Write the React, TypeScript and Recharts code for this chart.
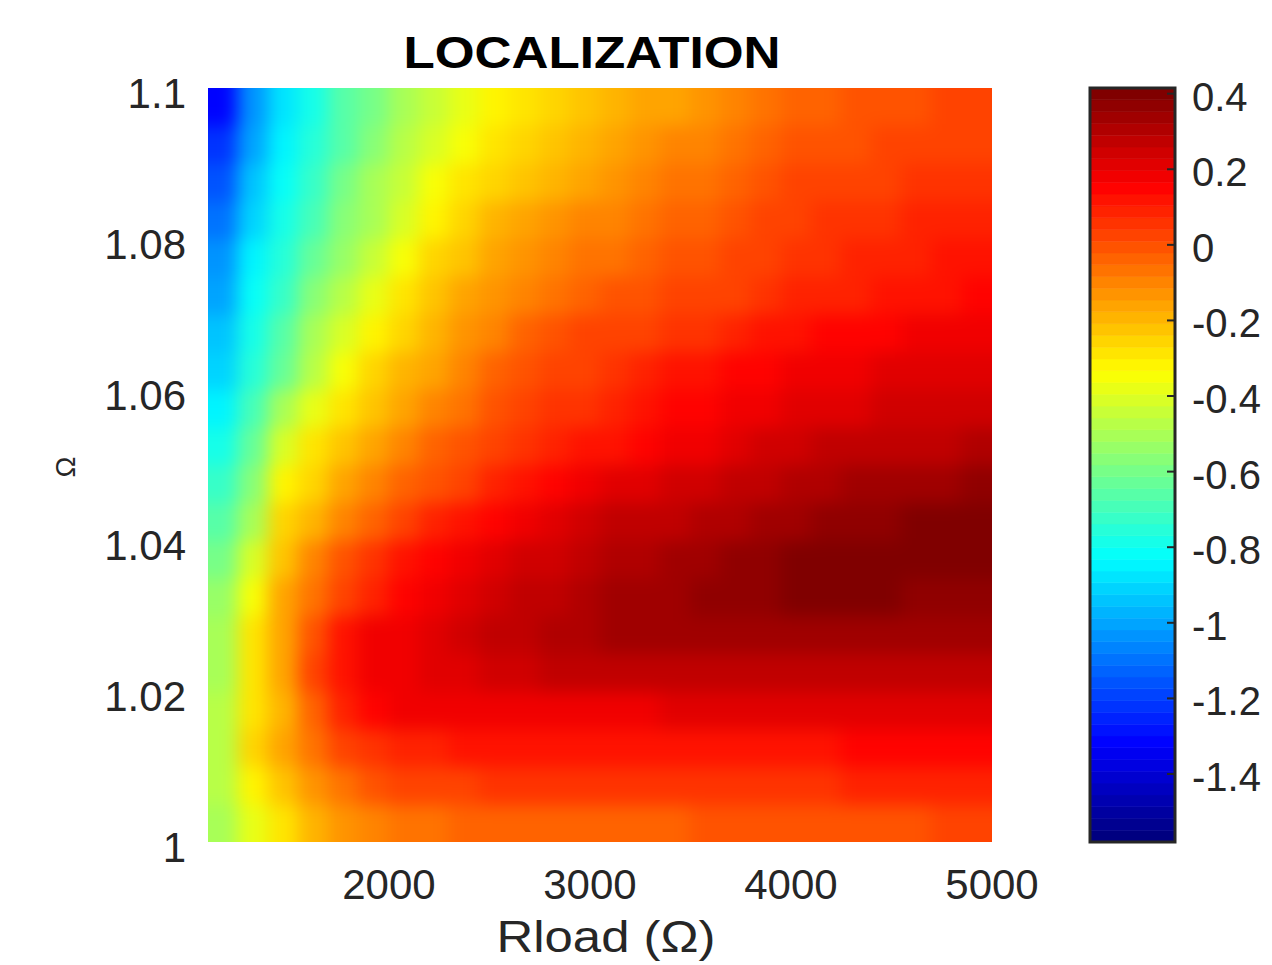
import React from 'react';
import { ComposedChart, XAxis, YAxis, ReferenceArea } from 'recharts';

// Grid centres (cell edges: Rload 1100..5000 step 150, Omega 1.00..1.10 step 0.005)
const rloadCenters = [1175, 1325, 1475, 1625, 1775, 1925, 2075, 2225, 2375, 2525, 2675, 2825, 2975, 3125, 3275, 3425, 3575, 3725, 3875, 4025, 4175, 4325, 4475, 4625, 4775, 4925];
const omegaCenters = [1.0025, 1.0075, 1.0125, 1.0175, 1.0225, 1.0275, 1.0325, 1.0375, 1.0425, 1.0475, 1.0525, 1.0575, 1.0625, 1.0675, 1.0725, 1.0775, 1.0825, 1.0875, 1.0925, 1.0975];
const R_STEP = 150;
const OMEGA_STEP = 0.005;

// localization[row][col], rows bottom (Omega=1.0025) to top (Omega=1.0975)
const localization = [
  [-0.50, -0.38, -0.30, -0.20, -0.14, -0.10, -0.08, -0.06, -0.05, -0.04, -0.04, -0.04, -0.04, -0.03, -0.03, -0.03, -0.02, -0.02, -0.02, -0.01, -0.01, -0.01, 0.00, 0.00, 0.01, 0.01],
  [-0.46, -0.32, -0.22, -0.13, -0.06, -0.01, 0.01, 0.03, 0.04, 0.05, 0.05, 0.06, 0.06, 0.06, 0.06, 0.06, 0.07, 0.07, 0.07, 0.07, 0.07, 0.08, 0.08, 0.08, 0.08, 0.09],
  [-0.46, -0.27, -0.17, -0.07, 0.01, 0.06, 0.08, 0.10, 0.11, 0.12, 0.12, 0.12, 0.12, 0.12, 0.12, 0.13, 0.13, 0.13, 0.13, 0.13, 0.13, 0.14, 0.14, 0.14, 0.15, 0.15],
  [-0.47, -0.29, -0.18, -0.05, 0.09, 0.15, 0.17, 0.17, 0.18, 0.18, 0.19, 0.19, 0.19, 0.19, 0.19, 0.20, 0.20, 0.20, 0.20, 0.21, 0.21, 0.21, 0.21, 0.22, 0.22, 0.22],
  [-0.49, -0.29, -0.15, 0.02, 0.13, 0.17, 0.19, 0.21, 0.22, 0.24, 0.25, 0.26, 0.27, 0.27, 0.27, 0.28, 0.28, 0.28, 0.29, 0.29, 0.29, 0.29, 0.29, 0.29, 0.29, 0.29],
  [-0.51, -0.30, -0.15, 0.00, 0.11, 0.17, 0.18, 0.21, 0.24, 0.27, 0.28, 0.30, 0.32, 0.33, 0.33, 0.33, 0.33, 0.34, 0.34, 0.34, 0.34, 0.34, 0.34, 0.35, 0.35, 0.35],
  [-0.55, -0.34, -0.17, -0.07, 0.02, 0.10, 0.15, 0.18, 0.21, 0.24, 0.26, 0.29, 0.32, 0.33, 0.34, 0.35, 0.36, 0.37, 0.38, 0.39, 0.39, 0.39, 0.39, 0.38, 0.38, 0.38],
  [-0.60, -0.40, -0.21, -0.10, -0.01, 0.07, 0.13, 0.16, 0.19, 0.21, 0.23, 0.25, 0.28, 0.31, 0.32, 0.33, 0.35, 0.36, 0.37, 0.39, 0.39, 0.40, 0.41, 0.42, 0.42, 0.42],
  [-0.67, -0.49, -0.26, -0.18, -0.10, -0.03, 0.03, 0.08, 0.12, 0.15, 0.18, 0.21, 0.24, 0.27, 0.28, 0.29, 0.31, 0.32, 0.33, 0.35, 0.36, 0.37, 0.38, 0.39, 0.40, 0.41],
  [-0.73, -0.58, -0.32, -0.24, -0.16, -0.10, -0.05, -0.01, 0.04, 0.08, 0.11, 0.14, 0.17, 0.20, 0.22, 0.24, 0.25, 0.27, 0.29, 0.31, 0.32, 0.33, 0.33, 0.34, 0.35, 0.36],
  [-0.80, -0.64, -0.42, -0.30, -0.22, -0.15, -0.09, -0.05, -0.02, 0.02, 0.05, 0.08, 0.11, 0.13, 0.15, 0.17, 0.19, 0.21, 0.23, 0.25, 0.26, 0.27, 0.27, 0.28, 0.29, 0.30],
  [-0.85, -0.69, -0.52, -0.38, -0.29, -0.21, -0.15, -0.10, -0.06, -0.02, 0.02, 0.05, 0.07, 0.10, 0.12, 0.14, 0.15, 0.17, 0.19, 0.21, 0.22, 0.22, 0.23, 0.24, 0.24, 0.25],
  [-0.91, -0.75, -0.62, -0.47, -0.36, -0.27, -0.20, -0.15, -0.10, -0.05, -0.01, 0.02, 0.04, 0.07, 0.09, 0.11, 0.12, 0.14, 0.16, 0.18, 0.19, 0.19, 0.20, 0.21, 0.21, 0.22],
  [-0.95, -0.79, -0.67, -0.52, -0.42, -0.32, -0.25, -0.19, -0.14, -0.09, -0.05, -0.02, 0.01, 0.03, 0.04, 0.06, 0.07, 0.09, 0.11, 0.13, 0.14, 0.15, 0.16, 0.17, 0.18, 0.19],
  [-1.00, -0.83, -0.71, -0.58, -0.47, -0.38, -0.30, -0.23, -0.17, -0.12, -0.09, -0.06, -0.03, -0.02, 0.00, 0.01, 0.02, 0.04, 0.06, 0.08, 0.09, 0.10, 0.11, 0.12, 0.13, 0.15],
  [-1.05, -0.86, -0.76, -0.63, -0.53, -0.43, -0.35, -0.27, -0.21, -0.16, -0.13, -0.10, -0.07, -0.06, -0.04, -0.02, -0.01, 0.01, 0.03, 0.05, 0.07, 0.08, 0.09, 0.10, 0.11, 0.12],
  [-1.09, -0.90, -0.80, -0.69, -0.58, -0.49, -0.41, -0.33, -0.26, -0.20, -0.17, -0.14, -0.11, -0.09, -0.07, -0.05, -0.03, -0.01, 0.02, 0.04, 0.05, 0.06, 0.07, 0.08, 0.08, 0.09],
  [-1.16, -0.95, -0.82, -0.71, -0.61, -0.51, -0.43, -0.36, -0.29, -0.24, -0.21, -0.18, -0.15, -0.12, -0.10, -0.08, -0.06, -0.03, -0.01, 0.01, 0.02, 0.03, 0.04, 0.05, 0.06, 0.07],
  [-1.21, -1.00, -0.85, -0.75, -0.65, -0.56, -0.48, -0.41, -0.35, -0.29, -0.25, -0.22, -0.19, -0.16, -0.14, -0.11, -0.09, -0.07, -0.05, -0.02, -0.01, 0.00, 0.01, 0.02, 0.03, 0.04],
  [-1.31, -1.05, -0.88, -0.77, -0.67, -0.59, -0.51, -0.44, -0.38, -0.32, -0.29, -0.26, -0.23, -0.20, -0.17, -0.15, -0.12, -0.10, -0.07, -0.04, -0.03, -0.02, -0.01, 0.00, 0.01, 0.02],
];

const xTicks = [2000, 3000, 4000, 5000];
const yTicks = [1, 1.02, 1.04, 1.06, 1.08, 1.1];
const colorbarTicks = [0.4, 0.2, 0, -0.2, -0.4, -0.6, -0.8, -1, -1.2, -1.4];
const colorMin = -1.58;
const colorMax = 0.415;
const colorLevels = 64;

const X_DOMAIN: [number, number] = [1100, 5000];
const Y_DOMAIN: [number, number] = [1, 1.1];

const FONT = '"Liberation Sans", Arial, Helvetica, sans-serif';
const TEXT = '#262626';

function jet(i: number): string {
  const t = i / (colorLevels - 1);
  const c = (v: number) => Math.round(255 * Math.max(0, Math.min(1, v)));
  const r = c(1.5 - Math.abs(4 * t - 3));
  const g = c(1.5 - Math.abs(4 * t - 2));
  const b = c(1.5 - Math.abs(4 * t - 1));
  return `rgb(${r},${g},${b})`;
}

function colorFor(v: number): string {
  let idx = Math.floor(((v - colorMin) / (colorMax - colorMin)) * colorLevels);
  idx = Math.max(0, Math.min(colorLevels - 1, idx));
  return jet(idx);
}

const cells = omegaCenters.flatMap((om, ri) =>
  rloadCenters.map((r, ci) => ({ r, om, v: localization[ri][ci], ri, ci }))
);

const levelBands = Array.from({ length: colorLevels }, (_, i) => ({
  lo: colorMin + ((colorMax - colorMin) * i) / colorLevels,
  hi: colorMin + ((colorMax - colorMin) * (i + 1)) / colorLevels,
  i,
}));

const fmt = (v: number) => String(Math.round(v * 100) / 100);

const XTick = (props: any) => {
  const { x, y, payload } = props;
  return (
    <text x={x} y={y + 57} textAnchor="middle" fontFamily={FONT} fontSize={42} fill={TEXT}>
      {fmt(payload.value)}
    </text>
  );
};

const YTick = (props: any) => {
  const { x, y, payload } = props;
  return (
    <text x={x - 22} y={y + 20} textAnchor="end" fontFamily={FONT} fontSize={42} fill={TEXT}>
      {fmt(payload.value)}
    </text>
  );
};

const CbTick = (props: any) => {
  const { x, y, payload } = props;
  return (
    <g>
      <line x1={x - 8} x2={x} y1={y} y2={y} stroke={TEXT} strokeWidth={2} />
      <text x={x + 17} y={y + 17} textAnchor="start" fontFamily={FONT} fontSize={40} fill={TEXT}>
        {fmt(payload.value)}
      </text>
    </g>
  );
};

// edge cells are drawn a little past the plot so the smoothing does not fade at the borders
const EDGE_R = 400;
const EDGE_OM = 0.012;

export default function App() {
  const lastC = rloadCenters.length - 1;
  const lastR = omegaCenters.length - 1;
  return (
    <div style={{ position: 'absolute', left: 0, top: 0, width: 1272, height: 965, background: '#fff', overflow: 'hidden' }}>
      {/* heat map cells, smoothed and clipped to the plot area */}
      <div style={{ position: 'absolute', left: 208, top: 88, width: 784, height: 754, overflow: 'hidden' }}>
        <div style={{ position: 'absolute', left: -208, top: -88, filter: 'blur(9px)' }}>
          <ComposedChart width={1272} height={965} margin={{ top: 88, right: 280, bottom: 123, left: 208 }} data={cells}>
            <XAxis type="number" dataKey="r" domain={X_DOMAIN} hide allowDataOverflow />
            <YAxis type="number" dataKey="om" domain={Y_DOMAIN} hide allowDataOverflow />
            {cells.map((c, k) => {
              const col = colorFor(c.v);
              const x1 = c.ci === 0 ? X_DOMAIN[0] - EDGE_R : c.r - R_STEP / 2;
              const x2 = c.ci === lastC ? X_DOMAIN[1] + EDGE_R : c.r + R_STEP / 2;
              const y1 = c.ri === 0 ? Y_DOMAIN[0] - EDGE_OM : c.om - OMEGA_STEP / 2;
              const y2 = c.ri === lastR ? Y_DOMAIN[1] + EDGE_OM : c.om + OMEGA_STEP / 2;
              return (
                <ReferenceArea
                  key={k}
                  x1={x1}
                  x2={x2}
                  y1={y1}
                  y2={y2}
                  fill={col}
                  fillOpacity={1}
                  stroke={col}
                  strokeWidth={0.8}
                  ifOverflow="visible"
                />
              );
            })}
          </ComposedChart>
        </div>
      </div>
      {/* axes */}
      <div style={{ position: 'absolute', left: 0, top: 0 }}>
        <ComposedChart width={1088} height={965} margin={{ top: 88, right: 96, bottom: 93, left: 108 }} data={cells}>
          <XAxis
            type="number"
            dataKey="r"
            domain={X_DOMAIN}
            ticks={xTicks}
            axisLine={false}
            tickLine={false}
            tickSize={0}
            tickMargin={0}
            height={30}
            tick={XTick}
            allowDataOverflow
          />
          <YAxis
            type="number"
            dataKey="om"
            domain={Y_DOMAIN}
            ticks={yTicks}
            axisLine={false}
            tickLine={false}
            tickSize={0}
            tickMargin={0}
            width={100}
            tick={YTick}
            allowDataOverflow
          />
        </ComposedChart>
      </div>
      {/* colour bar */}
      <div style={{ position: 'absolute', left: 1088, top: 0 }}>
        <ComposedChart width={184} height={965} margin={{ top: 88, right: 0, bottom: 123, left: 2 }} data={levelBands}>
          <XAxis type="number" dataKey="i" domain={[0, 1]} hide allowDataOverflow />
          <YAxis
            type="number"
            dataKey="lo"
            orientation="right"
            domain={[colorMin, colorMax]}
            ticks={colorbarTicks}
            axisLine={false}
            tickLine={false}
            tickSize={0}
            tickMargin={0}
            width={97}
            tick={CbTick}
            allowDataOverflow
          />
          {levelBands.map((b) => (
            <ReferenceArea
              key={b.i}
              x1={0}
              x2={1}
              y1={b.lo}
              y2={b.hi}
              fill={jet(b.i)}
              fillOpacity={1}
              stroke={jet(b.i)}
              strokeWidth={0.6}
              ifOverflow="visible"
            />
          ))}
          <ReferenceArea x1={0} x2={1} y1={colorMin} y2={colorMax} fill="none" stroke={TEXT} strokeWidth={3} ifOverflow="visible" />
        </ComposedChart>
      </div>
      <svg width={1272} height={965} style={{ position: 'absolute', left: 0, top: 0, pointerEvents: 'none' }}>
        <text x={592} y={68} textAnchor="middle" fontFamily={FONT} fontWeight="bold" fontSize={44} fill="#000" textLength={377} lengthAdjust="spacingAndGlyphs">
          LOCALIZATION
        </text>
        <text x={606} y={952} textAnchor="middle" fontFamily={FONT} fontSize={45} fill={TEXT} textLength={219} lengthAdjust="spacingAndGlyphs">
          Rload (Ω)
        </text>
        <text x={0} y={0} transform="translate(75,467) rotate(-90)" textAnchor="middle" fontFamily={FONT} fontSize={28} fill={TEXT}>
          Ω
        </text>
      </svg>
    </div>
  );
}
